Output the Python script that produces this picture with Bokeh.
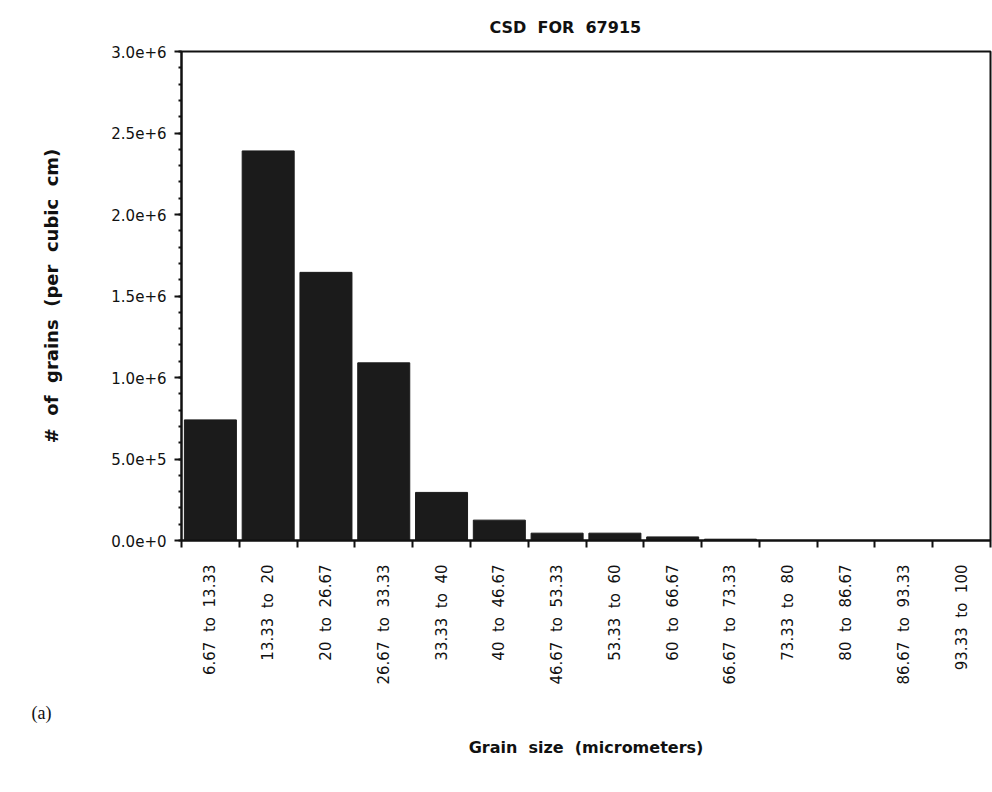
import math
from bokeh.plotting import figure
from bokeh.models import Range1d, FixedTicker, SingleIntervalTicker, Title, ColumnDataSource
from bokeh.embed import file_html
from bokeh.resources import INLINE

# ---- data ----
categories = ["6.67 to 13.33", "13.33 to 20", "20 to 26.67", "26.67 to 33.33",
              "33.33 to 40", "40 to 46.67", "46.67 to 53.33", "53.33 to 60",
              "60 to 66.67", "66.67 to 73.33", "73.33 to 80", "80 to 86.67",
              "86.67 to 93.33", "93.33 to 100"]
grains = [0.74e6, 2.39e6, 1.645e6, 1.09e6, 0.295e6, 0.125e6, 0.045e6, 0.045e6,
          0.022e6, 0.008e6, 0.0, 0.0, 0.0, 0.0]
y_ticks = [0, 500000, 1000000, 1500000, 2000000, 2500000, 3000000]
y_tick_labels = ["0.0e+0", "5.0e+5", "1.0e+6", "1.5e+6", "2.0e+6", "2.5e+6", "3.0e+6"]

n = len(categories)
centers = [i + 0.5 for i in range(n)]
source = ColumnDataSource(dict(x=centers, top=grains, cat=categories))

FONT = "DejaVu Sans"
INK = "#111111"
SP2 = "\u00a0\u00a0"

p = figure(width=992, height=792, output_backend="svg", toolbar_location=None,
           x_range=Range1d(0, n), y_range=Range1d(0, 3.0e6),
           min_border_left=181, min_border_right=2, min_border_top=50,
           min_border_bottom=252)
p.title.text = "CSD" + SP2 + "FOR" + SP2 + "67915"
p.title.align = "left"
p.title.offset = 308
p.title.text_font = FONT
p.title.text_font_size = "16px"
p.title.text_font_style = "bold"
p.title.text_color = INK
p.title.standoff = 30

p.vbar(x="x", top="top", width=0.9, source=source, fill_color="#1b1b1b",
       line_color="#1b1b1b")

p.grid.visible = False
p.outline_line_color = INK
p.outline_line_width = 2
p.background_fill_color = "white"
p.border_fill_color = "white"

# x axis
xa = p.xaxis[0]
xa.ticker = FixedTicker(ticks=centers, minor_ticks=list(range(n + 1)))
xa.major_label_overrides = {c: lab.replace(" ", SP2) for c, lab in zip(centers, categories)}
xa.major_label_orientation = math.pi / 2
xa.major_tick_line_color = None
xa.major_tick_out = 7
xa.major_tick_in = 0
xa.minor_tick_out = 7
xa.minor_tick_in = 0
xa.minor_tick_line_width = 2
xa.minor_tick_line_color = INK
xa.major_label_standoff = 17
xa.major_label_text_font = FONT
xa.major_label_text_font_size = "15px"
xa.major_label_text_color = INK
xa.axis_line_width = 2
xa.axis_line_color = INK

# panel tag and x axis title, stacked below the axis
p.add_layout(Title(text="(a)", align="left", offset=-150, standoff=26,
                   text_font="Liberation Serif", text_font_size="18px",
                   text_font_style="normal", text_color=INK), "below")
p.add_layout(Title(text="Grain" + SP2 + "size" + SP2 + "(micrometers)", align="center",
                   standoff=0, text_font=FONT, text_font_size="16px",
                   text_font_style="bold", text_color=INK), "below")

# y axis
ya = p.yaxis[0]
ya.ticker = SingleIntervalTicker(interval=500000, num_minor_ticks=5)
ya.major_label_overrides = {t: lab for t, lab in zip(y_ticks, y_tick_labels)}
ya.major_tick_out = 7
ya.major_tick_in = 0
ya.minor_tick_out = 3
ya.minor_tick_in = 0
ya.major_tick_line_width = 2
ya.minor_tick_line_width = 2
ya.major_tick_line_color = INK
ya.minor_tick_line_color = INK
ya.major_label_text_font = FONT
ya.major_label_text_font_size = "15px"
ya.major_label_text_color = INK
ya.major_label_standoff = 8
ya.axis_line_width = 2
ya.axis_line_color = INK
ya.axis_label = "#" + SP2 + "of" + SP2 + "grains" + SP2 + "(per" + SP2 + "cubic" + SP2 + "cm)"
ya.axis_label_text_font = FONT
ya.axis_label_text_font_size = "18px"
ya.axis_label_text_font_style = "bold"
ya.axis_label_text_color = INK
ya.axis_label_standoff = 46

open("out.html", "w").write(file_html(p, INLINE))
